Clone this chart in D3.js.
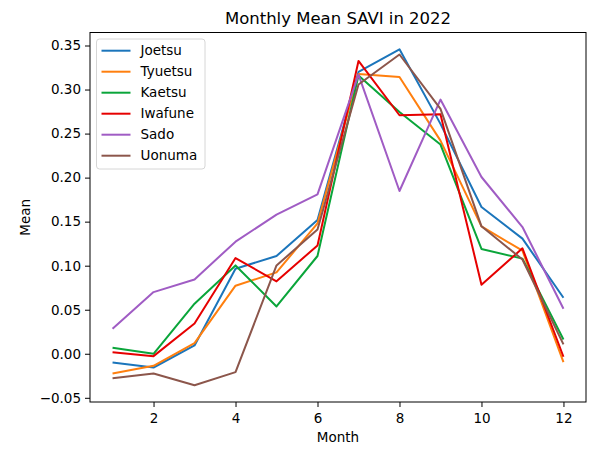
<!DOCTYPE html>
<html>
<head>
<meta charset="utf-8">
<script src="https://cdn.jsdelivr.net/npm/d3@7"></script>
<style>
  body { margin: 0; background: #fff; }
  text { font-family: "DejaVu Sans", sans-serif; fill: #000; }
</style>
</head>
<body>
<div id="myChart"></div>
<script>
// data
const months = [1, 2, 3, 4, 5, 6, 7, 8, 9, 10, 11, 12];
const regions = ["Joetsu", "Tyuetsu", "Kaetsu", "Iwafune", "Sado", "Uonuma"];
const joetsu  = [-0.010, -0.0156, 0.0094, 0.0966, 0.111, 0.152, 0.320, 0.3457, 0.261, 0.1667, 0.1307, 0.0636];
const tyuetsu = [-0.0224, -0.0137, 0.012, 0.0773, 0.0924, 0.148, 0.3177, 0.3143, 0.242, 0.1447, 0.117, -0.0095];
const kaetsu  = [0.0068, 0.0, 0.0568, 0.1003, 0.0537, 0.111, 0.316, 0.2745, 0.2375, 0.119, 0.108, 0.0162];
const iwafune = [0.0018, -0.0027, 0.0344, 0.1087, 0.0822, 0.123, 0.3325, 0.2708, 0.272, 0.0784, 0.1197, -0.0034];
const sado    = [0.0284, 0.070, 0.0844, 0.1273, 0.158, 0.181, 0.317, 0.1848, 0.2886, 0.2007, 0.1439, 0.0511];
const uonuma  = [-0.0277, -0.0224, -0.0357, -0.0209, 0.1003, 0.141, 0.3057, 0.3398, 0.278, 0.1447, 0.107, 0.0106];
const xTicks = [2, 4, 6, 8, 10, 12];
const yTicks = [-0.05, 0, 0.05, 0.10, 0.15, 0.20, 0.25, 0.30, 0.35];

const seriesValues = [joetsu, tyuetsu, kaetsu, iwafune, sado, uonuma];
const colors = ["#1b75bb", "#ff7f0e", "#0aa53a", "#e60000", "#a05cc4", "#8c564b"];

// set the dimensions and margins of the graph
let margin = {top: 32.5, right: 30, bottom: 54, left: 90},
    width = 616 - margin.left - margin.right,
    height = 456 - margin.top - margin.bottom;

let svg = d3.select("#myChart")
  .append("svg")
    .attr("width", 616)
    .attr("height", 456)
  .append("g")
    .attr("transform", `translate(${margin.left}, ${margin.top})`);

// matplotlib style 5% padding on both axes
const allVals = seriesValues.flat();
const yMin = d3.min(allVals), yMax = d3.max(allVals);
const yPad = (yMax - yMin) * 0.05;
const xPad = (12 - 1) * 0.05;

const x = d3.scaleLinear().domain([1 - xPad, 12 + xPad]).range([0, width]);
const y = d3.scaleLinear().domain([yMin - yPad, yMax + yPad]).range([height, 0]);

// axes
const xAxis = svg.append("g")
  .attr("transform", `translate(0, ${height})`)
  .call(d3.axisBottom(x).tickValues(xTicks).tickSize(5).tickPadding(4).tickFormat(d3.format("d")));
const yAxis = svg.append("g")
  .call(d3.axisLeft(y).tickValues(yTicks).tickSize(5).tickPadding(4)
    .tickFormat(d => d3.format(".2f")(d).replace("-", "\u2212")));

[xAxis, yAxis].forEach(a => {
  a.selectAll("text").attr("font-size", "13.5px").attr("font-family", "DejaVu Sans");
  a.selectAll("line").attr("stroke", "#000").attr("stroke-width", 1);
  a.select(".domain").remove();
});
xAxis.selectAll("text").attr("dy", "0.9em");

// lines
const line = d3.line()
  .x((d, i) => x(months[i]))
  .y(d => y(d));

svg.selectAll("path.series")
  .data(seriesValues)
  .join("path")
    .attr("class", "series")
    .attr("d", line)
    .attr("fill", "none")
    .attr("stroke", (d, i) => colors[i])
    .attr("stroke-width", 2)
    .attr("stroke-linejoin", "round");

// frame
svg.append("rect")
  .attr("width", width)
  .attr("height", height)
  .attr("fill", "none")
  .attr("stroke", "#000")
  .attr("stroke-width", 1);

// legend
const legend = svg.append("g").attr("transform", "translate(6.5, 6.5)");
legend.append("rect")
  .attr("width", 108.5)
  .attr("height", 130)
  .attr("rx", 3)
  .attr("fill", "#fff")
  .attr("fill-opacity", 0.8)
  .attr("stroke", "#d6d6d6")
  .attr("stroke-width", 1);

const items = legend.selectAll("g.item")
  .data(regions)
  .join("g")
    .attr("class", "item")
    .attr("transform", (d, i) => `translate(0, ${11.7 + i * 21})`);
items.append("line")
  .attr("x1", 5).attr("x2", 34)
  .attr("stroke", (d, i) => colors[i])
  .attr("stroke-width", 2);
items.append("text")
  .attr("x", 44)
  .attr("dy", "0.35em")
  .attr("font-size", "13.5px")
  .text(d => d);

// title and axis labels
svg.append("text")
  .attr("x", width / 2)
  .attr("y", -9)
  .attr("text-anchor", "middle")
  .attr("font-size", "16.5px")
  .text("Monthly Mean SAVI in 2022");

svg.append("text")
  .attr("x", width / 2)
  .attr("y", height + 40)
  .attr("text-anchor", "middle")
  .attr("font-size", "13.5px")
  .text("Month");

svg.append("text")
  .attr("transform", `translate(-60, ${height / 2}) rotate(-90)`)
  .attr("text-anchor", "middle")
  .attr("font-size", "13.5px")
  .text("Mean");
</script>
</body>
</html>
